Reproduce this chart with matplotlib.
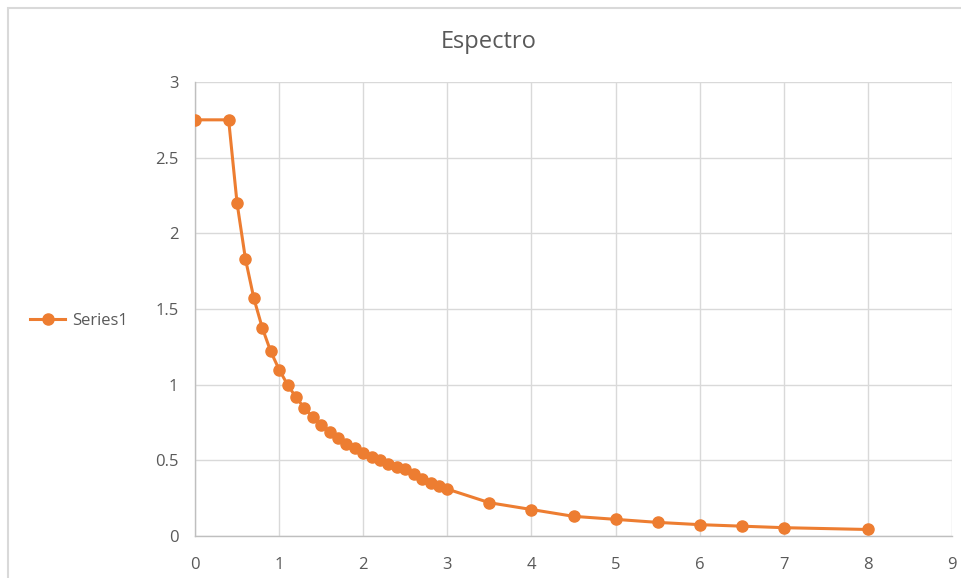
import matplotlib
matplotlib.use("Agg")
import matplotlib.pyplot as plt
from matplotlib.patches import Rectangle

# Spectrum ordinates (period vs. spectral value)
periods = [0.0, 0.4, 0.5, 0.6, 0.7, 0.8, 0.9, 1.0, 1.1, 1.2, 1.3, 1.4, 1.5,
           1.6, 1.7, 1.8, 1.9, 2.0, 2.1, 2.2, 2.3, 2.4, 2.5, 2.6, 2.7, 2.8,
           2.9, 3.0, 3.5, 4.0, 4.5, 5.0, 5.5, 6.0, 6.5, 7.0, 8.0]
values = [2.75, 2.75, 2.2, 1.83, 1.57, 1.375, 1.22, 1.1, 1.0, 0.917, 0.846,
          0.786, 0.733, 0.688, 0.647, 0.611, 0.579, 0.55, 0.524, 0.5, 0.478,
          0.458, 0.44, 0.41, 0.375, 0.35, 0.33, 0.31, 0.22, 0.175, 0.13,
          0.11, 0.09, 0.075, 0.065, 0.055, 0.043]
series_name = "Series1"
title = "Espectro"
x_ticks = list(range(0, 10))
y_ticks = [0, 0.5, 1, 1.5, 2, 2.5, 3]
y_tick_labels = ["0", "0.5", "1", "1.5", "2", "2.5", "3"]

W, H = 961, 578
fig = plt.figure(figsize=(W / 100, H / 100), dpi=100)
plt.rcParams["font.family"] = ["Open Sans", "DejaVu Sans"]

# chart frame
fig.patches.append(Rectangle((8 / W, -0.1), 1.2, 1 - 8 / H + 0.1,
                             transform=fig.transFigure, fill=False,
                             edgecolor="#d9d9d9", linewidth=1.5))

ax = fig.add_axes([195 / W, 1 - 536 / H, (952 - 195) / W, (536 - 82) / H])
orange = "#ed7d31"
line, = ax.plot(periods, values, color=orange, linewidth=2.2, marker="o",
                markersize=8, label=series_name, zorder=3)

ax.set_xlim(0, 9)
ax.set_ylim(0, 3)
ax.set_xticks(x_ticks)
ax.set_yticks(y_ticks)
ax.set_yticklabels(y_tick_labels)
ax.grid(True, color="#d9d9d9", linewidth=1)
ax.set_axisbelow(True)
for s in ["top", "right"]:
    ax.spines[s].set_visible(False)
for s in ["left", "bottom"]:
    ax.spines[s].set_color("#bfbfbf")
    ax.spines[s].set_linewidth(1)
ax.tick_params(length=0, labelsize=12, labelcolor="#595959")
ax.tick_params(axis="y", pad=12)
ax.tick_params(axis="x", pad=15)

fig.text(489 / W, 1 - 42 / H, title, ha="center", va="center",
         fontsize=17, color="#595959")

leg = fig.legend(handles=[line], loc="center left",
                 bbox_to_anchor=(30 / W, 1 - 321 / H), frameon=False,
                 fontsize=12, handlelength=2.1, handletextpad=0.4,
                 borderaxespad=0, borderpad=0)
for t in leg.get_texts():
    t.set_color("#595959")

fig.savefig("out.png", dpi=100)
